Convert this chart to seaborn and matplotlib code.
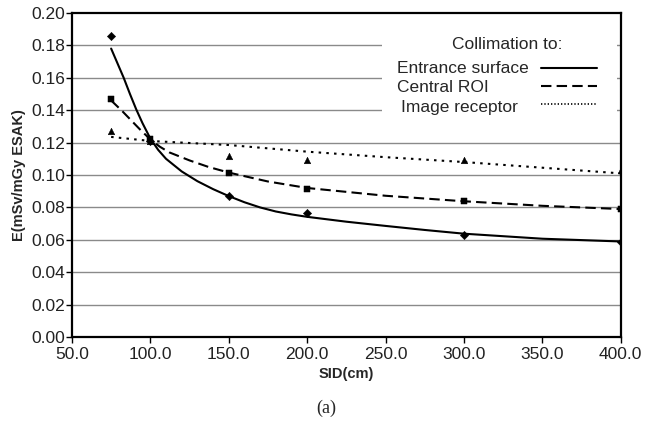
import numpy as np
import pandas as pd
import seaborn as sns
import matplotlib.pyplot as plt
from matplotlib.patches import Rectangle

# measured points
sid = [75, 100, 150, 200, 300, 400]
entrance_pts = [0.186, 0.121, 0.087, 0.0765, 0.063, 0.0587]
central_pts = [0.147, 0.122, 0.101, 0.0913, 0.084, 0.079]
receptor_pts = [0.127, 0.121, 0.112, 0.109, 0.109, 0.103]

# trend curves
entrance_x = [75, 79, 83, 87, 91, 95, 100, 105, 110, 120, 130, 140, 150, 160, 170, 180, 190, 200,
              225, 250, 275, 300, 350, 400]
entrance_fit = [0.178, 0.169, 0.160, 0.150, 0.1405, 0.132, 0.1225, 0.1155, 0.110, 0.1022, 0.0962, 0.0913,
                0.087, 0.0832, 0.0800, 0.0775, 0.0757, 0.0742, 0.0712, 0.0686, 0.0661, 0.0638, 0.0607, 0.059]
central_x = [75, 82, 88, 94, 100, 106, 112, 125, 137, 150, 175, 200, 250, 300, 350, 400]
central_fit = [0.146, 0.1395, 0.1335, 0.1275, 0.122, 0.1175, 0.114, 0.109, 0.105, 0.1015, 0.096, 0.092,
               0.0872, 0.0838, 0.081, 0.079]
receptor_x = [75, 100, 150, 200, 250, 300, 350, 400]
receptor_fit = [0.1235, 0.121, 0.1185, 0.1144, 0.111, 0.108, 0.1045, 0.101]

labels = ["Entrance surface", "Central ROI", "Image receptor"]
dash_styles = [None, [5, 2.5], [1.2, 2.5]]

sns.set_style("white")
plt.rcParams['font.family'] = ['Liberation Sans', 'DejaVu Sans']

fig = plt.figure(figsize=(6.48, 4.30), dpi=100)
ax = fig.add_axes([0.111, 0.216, 0.847, 0.754])

for y in np.arange(0.02, 0.2, 0.02):
    ax.axhline(y, color='#8a8a8a', lw=1, zorder=1)

sns.lineplot(x=entrance_x, y=entrance_fit, ax=ax, color='black', lw=1.5, zorder=3)
sns.lineplot(x=central_x, y=central_fit, ax=ax, color='black', lw=1.5, zorder=3)
sns.lineplot(x=receptor_x, y=receptor_fit, ax=ax, color='black', lw=1.5, zorder=3)
ax.lines[-2].set_dashes(dash_styles[1])
ax.lines[-1].set_dashes(dash_styles[2])

sns.scatterplot(x=sid, y=entrance_pts, ax=ax, marker='D', s=18, color='black', edgecolor='black', zorder=4)
sns.scatterplot(x=sid, y=central_pts, ax=ax, marker='s', s=20, color='black', edgecolor='black', zorder=4)
sns.scatterplot(x=sid, y=receptor_pts, ax=ax, marker='^', s=22, color='black', edgecolor='black', zorder=4)

ax.set_xlim(50, 400)
ax.set_ylim(0, 0.20)
ax.set_xticks(np.arange(50, 401, 50))
ax.set_xticklabels([f"{v:.1f}" for v in np.arange(50, 401, 50)])
ax.set_yticks(np.arange(0, 0.201, 0.02))
ax.set_yticklabels([f"{v:.2f}" for v in np.arange(0, 0.201, 0.02)])
ax.tick_params(axis='both', labelsize=12.5, length=4, width=1, direction='out',
               bottom=True, left=True, colors='black', labelcolor='#222222', pad=1)
ax.tick_params(axis='x', pad=3)
for s in ax.spines.values():
    s.set_color('black')
    s.set_linewidth(1.6)

ax.set_xlabel("SID(cm)", fontsize=10.5, fontweight='bold', labelpad=4)
ax.set_ylabel("E(mSv/mGy ESAK)", fontsize=10.5, fontweight='bold', labelpad=4)

# legend block: white panel over the gridlines, text on the left, line samples on the right
ax.add_patch(Rectangle((0.565, 0.645), 0.428, 0.352, transform=ax.transAxes,
                       facecolor='white', edgecolor='none', zorder=2))
ax.text(0.794, 0.904, "Collimation to:", transform=ax.transAxes, ha='center', va='center',
        fontsize=12.5, zorder=5)
text_x = [0.592, 0.592, 0.599]
text_y = [0.830, 0.769, 0.707]
handle_y = [0.830, 0.775, 0.720]
for lab, tx, ty, hy, ds in zip(labels, text_x, text_y, handle_y, dash_styles):
    ax.text(tx, ty, lab, transform=ax.transAxes, ha='left', va='center', fontsize=12.5, zorder=5)
    ln, = ax.plot([0.854, 0.956], [hy, hy], transform=ax.transAxes, color='black',
                  lw=1.5 if ds is None or ds[0] > 2 else 1.2, zorder=5)
    if ds is not None:
        ln.set_dashes(ds if ds[0] > 2 else [0.8, 1.2])

fig.text(0.503, 0.051, "(a)", ha='center', va='center', fontsize=13, family=['Liberation Serif'])

fig.savefig("out.png", dpi=100)
